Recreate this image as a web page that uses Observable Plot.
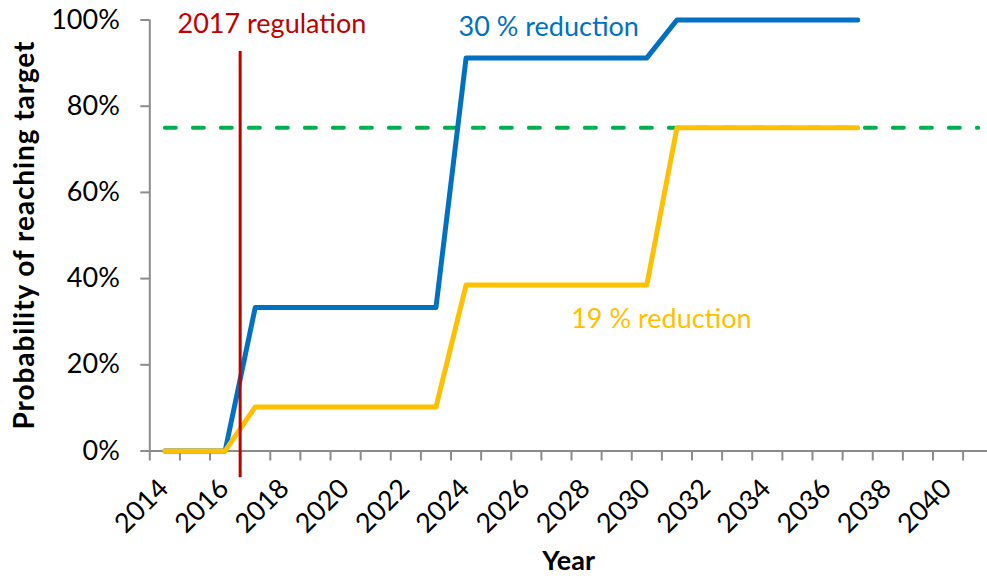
<!DOCTYPE html>
<html><head><meta charset="utf-8">
<script src="https://cdn.jsdelivr.net/npm/d3@7"></script>
<script src="https://cdn.jsdelivr.net/npm/@observablehq/plot@0.6"></script>
<style>
body{margin:0;background:#fff;}
#chart svg{display:block;}
</style></head><body><div id="chart"></div>
<script>
// ---- data ----
const seriesYears = [2014,2015,2016,2017,2018,2019,2020,2021,2022,2023,2024,2025,2026,2027,2028,2029,2030,2031,2032,2033,2034,2035,2036,2037];
const reduction30 = [0,0,0,0.333,0.333,0.333,0.333,0.333,0.333,0.333,0.912,0.912,0.912,0.912,0.912,0.912,0.912,1,1,1,1,1,1,1];
const reduction19 = [0,0,0,0.102,0.102,0.102,0.102,0.102,0.102,0.102,0.385,0.385,0.385,0.385,0.385,0.385,0.385,0.75,0.75,0.75,0.75,0.75,0.75,0.75];
const targetYears = [2014, 2041];
const targetLevel = 0.75;
const regulationYear = 2016.5;
const regulationSpan = [-0.062, 0.927];
const yTicks = [0, 0.2, 0.4, 0.6, 0.8, 1];
const xTickLabels = [2014,2016,2018,2020,2022,2024,2026,2028,2030,2032,2034,2036,2038,2040];
const xCategoryEdges = [2013.5,2014.5,2015.5,2016.5,2017.5,2018.5,2019.5,2020.5,2021.5,2022.5,2023.5,2024.5,2025.5,2026.5,2027.5,2028.5,2029.5,2030.5,2031.5,2032.5,2033.5,2034.5,2035.5,2036.5,2037.5,2038.5,2039.5,2040.5];
const yTitle = "Probability of reaching target";
const xTitle = "Year";
const annotations = [
  {text: "2017 regulation", year: 2014.42, value: 0.990, color: "#C00000"},
  {text: "30 % reduction", year: 2023.75, value: 0.984, color: "#0070C0"},
  {text: "19 % reduction", year: 2027.49, value: 0.306, color: "#FFC000"}
];

const rows = seriesYears.map((year, i) => ({year, r30: reduction30[i], r19: reduction19[i]}));
const targetRows = targetYears.map(year => ({year, v: targetLevel}));
const axisGray = "#8c8c8c";

const chart = Plot.plot({
  width: 987,
  height: 576,
  marginLeft: 149.3,
  marginRight: 0,
  marginTop: 19.5,
  marginBottom: 125.5,
  style: {fontFamily: "Lato", fontSize: "27px", color: "black", background: "white"},
  x: {domain: [2013.5, 2041.31], label: null},
  y: {domain: [0, 1], label: null},
  marks: [
    Plot.ruleY([0], {stroke: axisGray, strokeWidth: 2}),
    Plot.ruleX([xCategoryEdges[0]], {y1: 0, y2: 1, stroke: axisGray, strokeWidth: 2}),
    Plot.axisY({ticks: yTicks, tickFormat: d3.format(".0%"), tickSize: 9, tickPadding: 21, stroke: axisGray, strokeWidth: 2, fill: "black", fontSize: 27, label: null}),
    Plot.axisX({ticks: xCategoryEdges, tickSize: 10, tickFormat: () => "", stroke: axisGray, strokeWidth: 2, label: null}),
    Plot.text(xTickLabels, {x: d => d, frameAnchor: "bottom", text: d => String(d), rotate: -45, textAnchor: "end", lineAnchor: "middle", dx: -1, dy: 33, fontSize: 27, fill: "black"}),
    Plot.text([yTitle], {frameAnchor: "left", rotate: -90, textAnchor: "middle", lineAnchor: "middle", dx: -124.6, fontWeight: "bold", fontSize: 28, fill: "black"}),
    Plot.text([xTitle], {frameAnchor: "bottom", textAnchor: "middle", lineAnchor: "middle", dy: 110, fontWeight: "bold", fontSize: 27, fill: "black"}),
    Plot.line(targetRows, {x: "year", y: "v", stroke: "#00B050", strokeWidth: 4, strokeDasharray: "11,17", strokeLinecap: "round"}),
    Plot.line(rows, {x: "year", y: "r30", stroke: "#0070C0", strokeWidth: 5, strokeLinecap: "round"}),
    Plot.line(rows, {x: "year", y: "r19", stroke: "#FFC000", strokeWidth: 5, strokeLinecap: "round"}),
    Plot.ruleX([regulationYear], {y1: regulationSpan[0], y2: regulationSpan[1], stroke: "#C00000", strokeWidth: 3}),
    Plot.text(annotations, {x: "year", y: "value", text: "text", fill: "color", textAnchor: "start", lineAnchor: "middle", fontSize: 27})
  ]
});
d3.select(chart).selectAll("text")
  .filter(function() { return this.textContent === yTitle; })
  .attr("textLength", 388).attr("lengthAdjust", "spacing");
document.getElementById("chart").appendChild(chart);
</script></body></html>
